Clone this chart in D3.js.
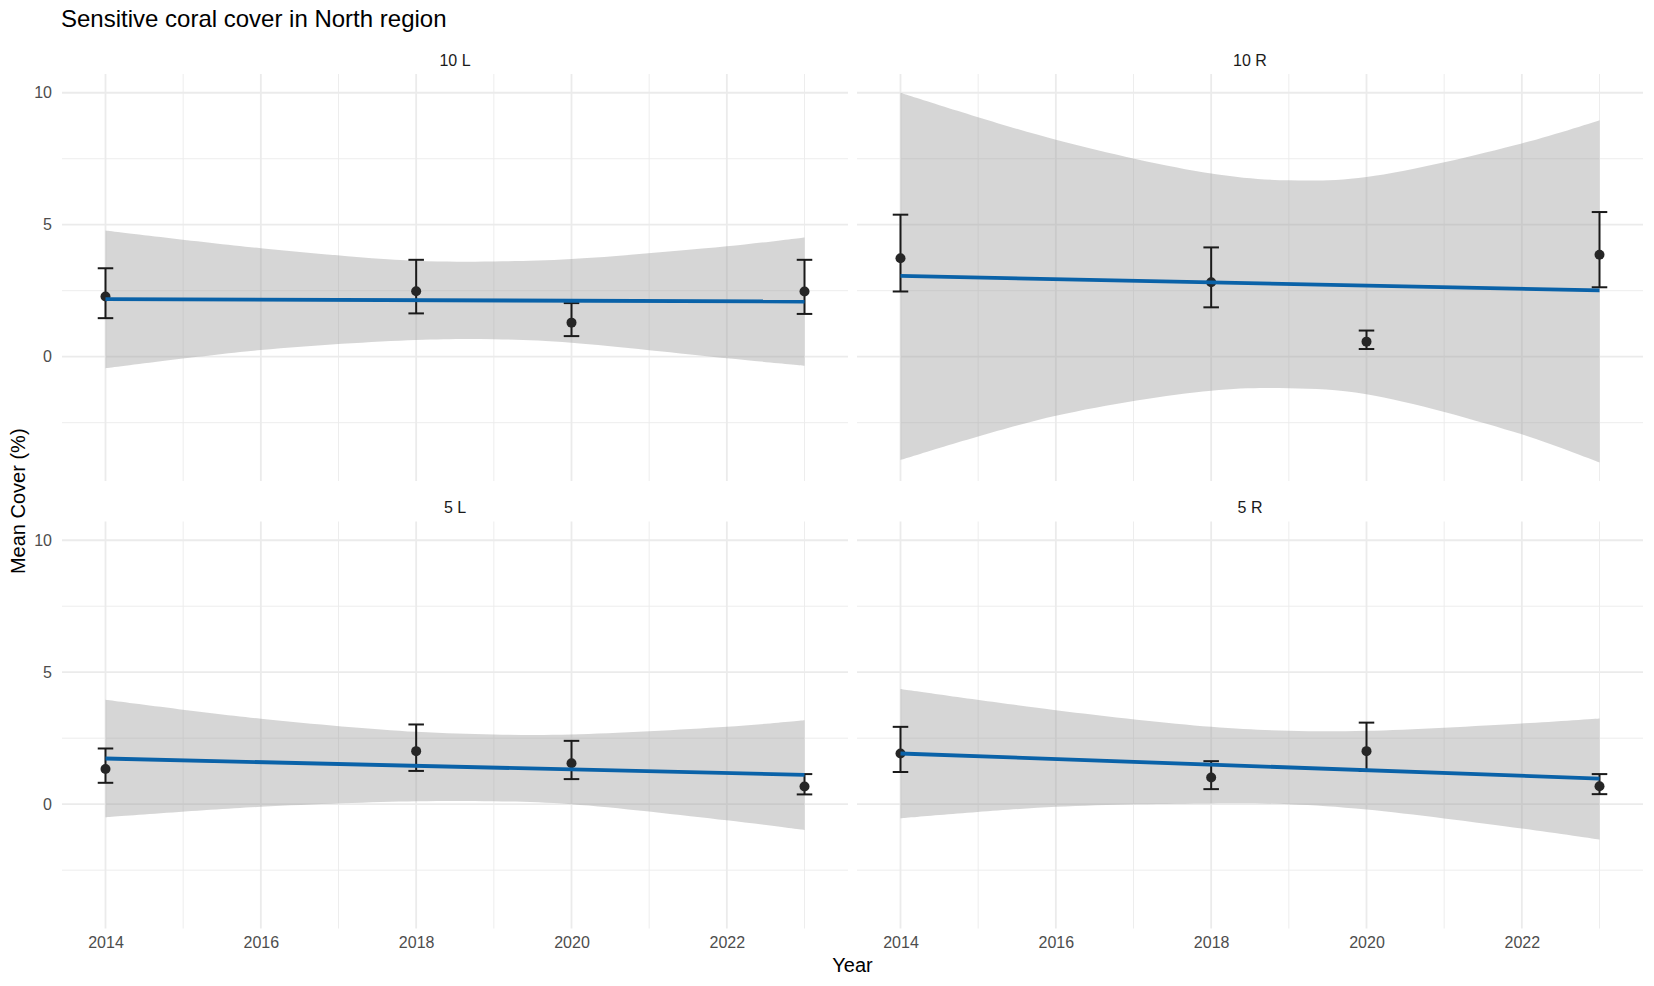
<!DOCTYPE html>
<html>
<head>
<meta charset="utf-8">
<script src="https://cdn.jsdelivr.net/npm/d3@7"></script>
<style>
  html, body { margin: 0; padding: 0; background: #fff; }
  svg { display: block; font-family: "Liberation Sans", Arial, sans-serif; }
</style>
</head>
<body>
<div id="chart"></div>
<script>
// facets and years
const facets = ["10 L", "10 R", "5 L", "5 R"];
const years = [2014, 2018, 2020, 2023];
const xTicks = [2014, 2016, 2018, 2020, 2022];
const xMinor = [2015, 2017, 2019, 2021, 2023];
const yTicks = [0, 5, 10];
const yMinor = [-2.5, 2.5, 7.5];

// mean cover (%) with error bar ends
const mean10L = [2.28, 2.48, 1.29, 2.47];
const hi10L = [3.35, 3.67, 2.03, 3.67];
const lo10L = [1.46, 1.64, 0.78, 1.62];

const mean10R = [3.73, 2.82, 0.57, 3.86];
const hi10R = [5.38, 4.14, 0.99, 5.48];
const lo10R = [2.47, 1.87, 0.29, 2.63];

const mean5L = [1.33, 2.01, 1.55, 0.67];
const hi5L = [2.11, 3.02, 2.40, 1.14];
const lo5L = [0.81, 1.26, 0.95, 0.37];

const mean5R = [1.92, 1.01, 2.01, 0.68];
const hi5R = [2.93, 1.63, 3.09, 1.14];
const lo5R = [1.22, 0.57, 1.26, 0.38];

// linear fit (value at 2014 and 2023)
const fitYears = [2014, 2023];
const fit10L = [2.18, 2.09];
const fit10R = [3.06, 2.51];
const fit5L = [1.73, 1.11];
const fit5R = [1.92, 0.97];

// confidence band
const bandYears = [2014, 2016, 2018, 2019, 2020, 2022, 2023];
const upper10L = [4.78, 4.11, 3.63, 3.61, 3.70, 4.18, 4.52];
const lower10L = [-0.44, 0.25, 0.63, 0.66, 0.53, -0.06, -0.34];
const upper10R = [10.0, 8.22, 6.94, 6.68, 6.81, 8.08, 8.96];
const lower10R = [-3.92, -2.24, -1.29, -1.20, -1.42, -2.94, -4.01];
const upper5L = [3.96, 3.24, 2.74, 2.64, 2.64, 2.93, 3.18];
const lower5L = [-0.50, -0.10, 0.11, 0.11, 0.00, -0.61, -0.98];
const upper5R = [4.36, 3.56, 2.93, 2.78, 2.78, 3.06, 3.25];
const lower5R = [-0.54, -0.10, 0.03, 0.00, -0.20, -0.92, -1.34];

const panels = [
  { name: facets[0], mean: mean10L, hi: hi10L, lo: lo10L, fit: fit10L, upper: upper10L, lower: lower10L },
  { name: facets[1], mean: mean10R, hi: hi10R, lo: lo10R, fit: fit10R, upper: upper10R, lower: lower10R },
  { name: facets[2], mean: mean5L, hi: hi5L, lo: lo5L, fit: fit5L, upper: upper5L, lower: lower5L },
  { name: facets[3], mean: mean5R, hi: hi5R, lo: lo5R, fit: fit5R, upper: upper5R, lower: lower5R },
];

const width = 1654, height = 986;
const colLeft = [62, 857];
const rowTop = [74, 521.5];
const panelW = 786, panelH = 407;

const svg = d3.select("#chart").append("svg")
  .attr("width", width)
  .attr("height", height);

const x = d3.scaleLinear().domain([2013.44, 2023.56]).range([0, panelW]);
const y = d3.scaleLinear().domain([-4.71, 10.71]).range([panelH, 0]);

// 標題
svg.append("text")
  .attr("x", 61)
  .attr("y", 27)
  .attr("font-size", 24)
  .attr("fill", "#000")
  .text("Sensitive coral cover in North region");

panels.forEach((p, i) => {
  const col = i % 2, row = Math.floor(i / 2);
  const g = svg.append("g")
    .attr("transform", `translate(${colLeft[col]},${rowTop[row]})`);

  // grid
  g.selectAll(".minor-x").data(xMinor).enter().append("line")
    .attr("x1", d => x(d)).attr("x2", d => x(d))
    .attr("y1", 0).attr("y2", panelH)
    .attr("stroke", "#ebebeb").attr("stroke-width", 0.9);
  g.selectAll(".minor-y").data(yMinor).enter().append("line")
    .attr("x1", 0).attr("x2", panelW)
    .attr("y1", d => y(d)).attr("y2", d => y(d))
    .attr("stroke", "#ebebeb").attr("stroke-width", 0.9);
  g.selectAll(".major-x").data(xTicks).enter().append("line")
    .attr("x1", d => x(d)).attr("x2", d => x(d))
    .attr("y1", 0).attr("y2", panelH)
    .attr("stroke", "#ebebeb").attr("stroke-width", 1.8);
  g.selectAll(".major-y").data(yTicks).enter().append("line")
    .attr("x1", 0).attr("x2", panelW)
    .attr("y1", d => y(d)).attr("y2", d => y(d))
    .attr("stroke", "#ebebeb").attr("stroke-width", 1.8);

  // strip label
  g.append("text")
    .attr("x", panelW / 2)
    .attr("y", -14)
    .attr("dy", "0.35em")
    .attr("text-anchor", "middle")
    .attr("font-size", 16)
    .attr("fill", "#1a1a1a")
    .text(p.name);

  // confidence band
  const band = bandYears.map((yr, j) => ({ year: yr, up: p.upper[j], low: p.lower[j] }));
  g.append("path")
    .datum(band)
    .attr("fill", "#999999")
    .attr("fill-opacity", 0.4)
    .attr("d", d3.area()
      .x(d => x(d.year))
      .y0(d => y(d.low))
      .y1(d => y(d.up))
      .curve(d3.curveCatmullRom));

  const pts = years.map((yr, j) => ({ year: yr, mean: p.mean[j], hi: p.hi[j], lo: p.lo[j] }));

  // error bars
  const eb = g.selectAll(".eb").data(pts).enter().append("g")
    .attr("stroke", "#1a1a1a").attr("stroke-width", 2);
  eb.append("line")
    .attr("x1", d => x(d.year)).attr("x2", d => x(d.year))
    .attr("y1", d => y(d.hi)).attr("y2", d => y(d.lo));
  eb.append("line")
    .attr("x1", d => x(d.year - 0.1)).attr("x2", d => x(d.year + 0.1))
    .attr("y1", d => y(d.hi)).attr("y2", d => y(d.hi));
  eb.append("line")
    .attr("x1", d => x(d.year - 0.1)).attr("x2", d => x(d.year + 0.1))
    .attr("y1", d => y(d.lo)).attr("y2", d => y(d.lo));

  // points
  g.selectAll(".pt").data(pts).enter().append("circle")
    .attr("cx", d => x(d.year))
    .attr("cy", d => y(d.mean))
    .attr("r", 5)
    .attr("fill", "#262626");

  // fitted line
  const fit = fitYears.map((yr, j) => ({ year: yr, v: p.fit[j] }));
  g.append("path")
    .datum(fit)
    .attr("fill", "none")
    .attr("stroke", "#0a62a8")
    .attr("stroke-width", 3.8)
    .attr("d", d3.line().x(d => x(d.year)).y(d => y(d.v)));

  // axes
  if (col === 0) {
    const ya = g.append("g")
      .call(d3.axisLeft(y).tickValues(yTicks).tickSize(0).tickPadding(10).tickFormat(d3.format("d")));
    ya.select(".domain").remove();
    ya.selectAll("text").attr("font-size", 16).attr("fill", "#4d4d4d").attr("font-family", null);
  }
  if (row === 1) {
    const xa = g.append("g")
      .attr("transform", `translate(0,${panelH})`)
      .call(d3.axisBottom(x).tickValues(xTicks).tickSize(0).tickPadding(8.4).tickFormat(d3.format("d")));
    xa.select(".domain").remove();
    xa.selectAll("text").attr("font-size", 16).attr("fill", "#4d4d4d").attr("font-family", null);
  }
});

// axis titles
svg.append("text")
  .attr("x", (colLeft[0] + colLeft[1] + panelW) / 2)
  .attr("y", 972)
  .attr("text-anchor", "middle")
  .attr("font-size", 20)
  .attr("fill", "#000")
  .text("Year");

svg.append("text")
  .attr("transform", `translate(25,${(rowTop[0] + rowTop[1] + panelH) / 2}) rotate(-90)`)
  .attr("text-anchor", "middle")
  .attr("font-size", 20)
  .attr("fill", "#000")
  .text("Mean Cover (%)");
</script>
</body>
</html>
